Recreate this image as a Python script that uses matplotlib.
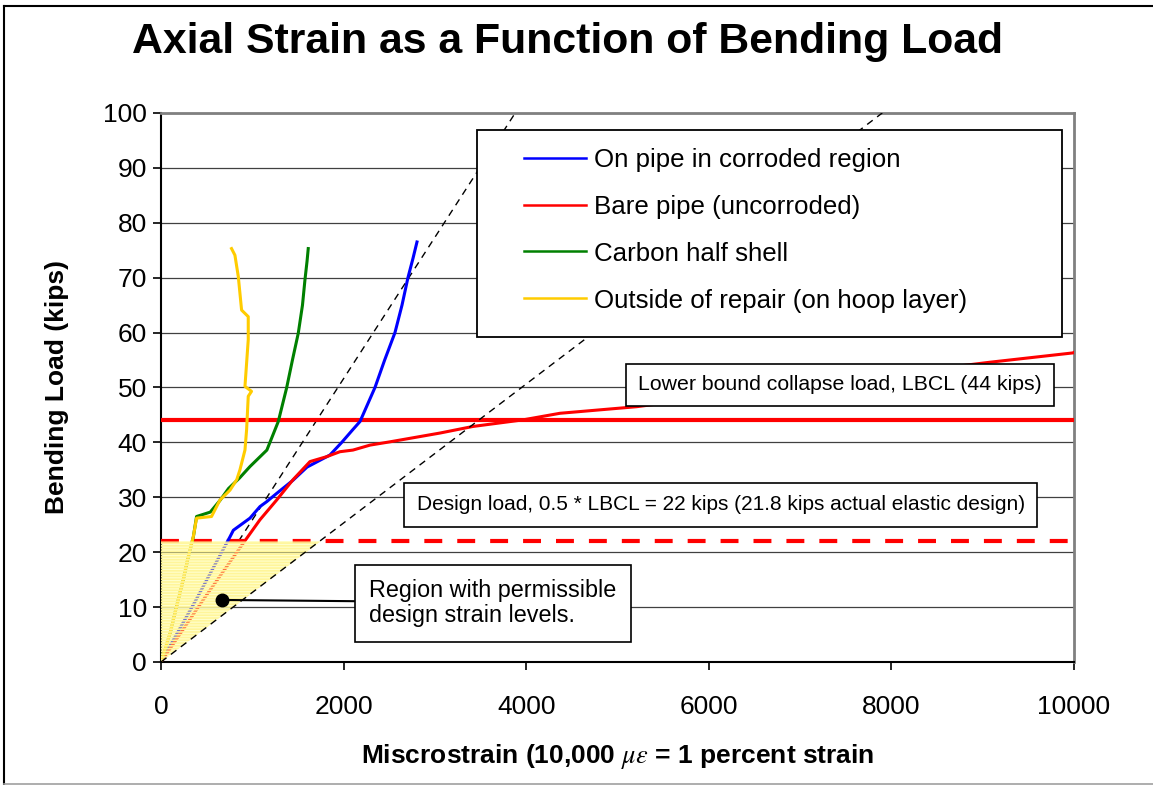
import numpy as np
import matplotlib.pyplot as plt
from matplotlib.patches import Rectangle
from matplotlib.lines import Line2D

plt.rcParams['font.family'] = ['Liberation Sans', 'DejaVu Sans']
plt.rcParams['mathtext.fontset'] = 'stix'
plt.rcParams['hatch.linewidth'] = 1.2

# strain readings (microstrain) vs bending load (kips)
blue_x = [0, 380, 756, 793, 975, 1084, 1158, 1267, 1446, 1600, 1851, 1980, 2100, 2180, 2270, 2344, 2450, 2563, 2640, 2705, 2760, 2804]
blue_y = [0, 11.2, 22.8, 24.0, 26.2, 28.3, 29.2, 30.7, 33.1, 35.5, 37.7, 40.0, 42.3, 43.8, 47.2, 50.0, 55.0, 60.0, 65.0, 70.0, 73.5, 76.5]

red_x = [0, 470, 938, 1084, 1267, 1446, 1632, 1815, 1960, 2103, 2289, 2508, 3056, 3417, 3965, 4370, 5210, 6000, 7000, 8000, 9080, 9990, 10000]
red_y = [0, 11.5, 22.5, 25.9, 29.5, 33.2, 36.5, 37.4, 38.3, 38.6, 39.5, 40.1, 41.7, 42.9, 44.1, 45.3, 46.5, 48.2, 50.3, 52.4, 54.6, 56.3, 56.4]

green_x = [0, 100, 170, 245, 300, 355, 390, 540, 650, 740, 860, 975, 1160, 1285, 1376, 1440, 1504, 1550, 1577, 1600, 1613]
green_y = [0, 5.2, 10.1, 15.0, 19.2, 22.8, 26.5, 27.3, 29.5, 31.6, 33.5, 35.6, 38.6, 43.8, 49.9, 55.0, 59.9, 65.0, 69.6, 73.0, 75.3]

yellow_x = [0, 99, 171, 244, 299, 354, 390, 554, 646, 756, 830, 865, 920, 938, 956, 992, 920, 956, 956, 883, 847, 810, 773]
yellow_y = [0, 5.2, 10.1, 15.0, 19.2, 22.8, 26.2, 26.5, 29.5, 31.3, 33.2, 35.0, 38.6, 42.3, 48.4, 49.3, 50.2, 58.7, 62.9, 64.1, 70.2, 74.1, 75.3]

labels = ['On pipe in corroded region', 'Bare pipe (uncorroded)', 'Carbon half shell',
          'Outside of repair (on hoop layer)']

lbcl = 44
design = 22

# dashed guide lines
guide_a_x = [850, 3880]
guide_a_y = [22, 100]
guide_b_x = [0, 7900]
guide_b_y = [0, 100]

# permissible region
region_x = [0, 0, 1750]
region_y = [0, 22, 22]
region_dot = (670, 11.3)

fig = plt.figure(figsize=(11.53, 7.85), dpi=100)
ax = fig.add_axes([0.1396, 0.1567, 0.7919, 0.6994])

ax.set_xlim(0, 10000)
ax.set_ylim(0, 100)
ax.set_xticks(np.arange(0, 10001, 2000))
ax.set_yticks(np.arange(0, 101, 10))
ax.tick_params(axis='both', labelsize=19, direction='out', length=6, width=1.2)
ax.tick_params(axis='x', pad=18)
ax.tick_params(axis='y', pad=4)
ax.yaxis.grid(True, color='#404040', lw=0.9)
ax.set_axisbelow(True)
for s in ['left', 'bottom']:
    ax.spines[s].set_color('black')
    ax.spines[s].set_linewidth(1.5)
for s in ['top', 'right']:
    ax.spines[s].set_color('#808080')
    ax.spines[s].set_linewidth(2)

ax.axhline(design, color='#FF0000', lw=3, dashes=(4.3, 3.6), zorder=3)
ax.axhline(lbcl, color='#FF0000', lw=3, zorder=3)

ax.plot(guide_a_x, guide_a_y, color='black', lw=1, dashes=(5, 4), zorder=2.5)

l1, = ax.plot(blue_x, blue_y, color='#0000FF', lw=2.2, zorder=3)
l2, = ax.plot(red_x, red_y, color='#FF0000', lw=2.2, zorder=3)
l3, = ax.plot(green_x, green_y, color='#008000', lw=2.2, zorder=3)
l4, = ax.plot(yellow_x, yellow_y, color='#FFCC00', lw=2.2, zorder=3)

ax.fill(region_x, region_y, facecolor=(1, 1, 0.55, 0.45), edgecolor='#FFF59A', hatch='------',
        lw=0, zorder=3.5)
ax.plot(guide_b_x, guide_b_y, color='black', lw=1, dashes=(5, 4), zorder=3.8)

# legend box
ax.add_patch(Rectangle((0.346, 0.592), 0.641, 0.377, transform=ax.transAxes,
                       facecolor='white', edgecolor='black', lw=1.3, zorder=4.5))
leg = ax.legend([l1, l2, l3, l4], labels, loc='upper left', bbox_to_anchor=(0.3976, 0.937),
                frameon=False, fontsize=18.6, handlelength=2.4, handletextpad=0.3,
                labelspacing=0.89, borderpad=0, borderaxespad=0)
leg.set_zorder(5)
for h in leg.get_lines():
    h.set_linewidth(1.8)

ax.text(0.7437, 0.5046, 'Lower bound collapse load, LBCL (44 kips)', transform=ax.transAxes,
        ha='center', va='center', fontsize=15.3,
        bbox=dict(boxstyle='square,pad=0.55', fc='white', ec='black', lw=1.2), zorder=6)
ax.text(0.613, 0.286, 'Design load, 0.5 * LBCL = 22 kips (21.8 kips actual elastic design)',
        transform=ax.transAxes, ha='center', va='center', fontsize=15,
        bbox=dict(boxstyle='square,pad=0.6', fc='white', ec='black', lw=1.2), zorder=6)

ax.annotate('Region with permissible\ndesign strain levels.', xy=region_dot,
            xytext=(0.3636, 0.107), textcoords='axes fraction', ha='center', va='center',
            multialignment='left', fontsize=16.8, linespacing=1.1,
            bbox=dict(boxstyle='square,pad=0.62', fc='white', ec='black', lw=1.2),
            arrowprops=dict(arrowstyle='-', color='black', lw=1.5, relpos=(0, 0.54),
                            shrinkA=0, shrinkB=0), zorder=6)
ax.plot(region_dot[0], region_dot[1], 'o', color='black', ms=9, zorder=6)

ax.set_ylabel('Bending Load (kips)', fontsize=19, fontweight='bold', va='center')
ax.yaxis.set_label_coords(-0.114, 0.5)
ax.set_xlabel(r'Miscrostrain (10,000 $\mu\varepsilon$ = 1 percent strain', fontsize=19,
              fontweight='bold', va='center')
ax.xaxis.set_label_coords(0.5, -0.173)

fig.suptitle('Axial Strain as a Function of Bending Load', fontsize=30.8, fontweight='bold',
             x=0.492, y=0.946, va='center')

# outer frame
fig.add_artist(Line2D([4 / 1153, 4 / 1153], [1 / 785, 779 / 785], color='black', lw=1.5))
fig.add_artist(Line2D([4 / 1153, 1.0], [779 / 785, 779 / 785], color='black', lw=1.5))
fig.add_artist(Line2D([4 / 1153, 1.0], [1.5 / 785, 1.5 / 785], color='#A0A0A0', lw=1.2))

plt.savefig('out.png', dpi=100)
